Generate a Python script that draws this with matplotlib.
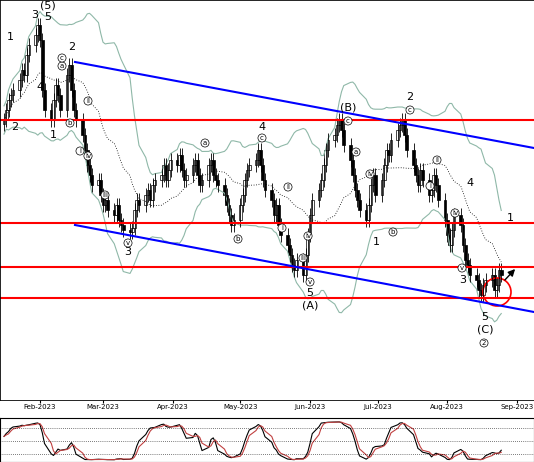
import numpy as np
import pandas as pd
import matplotlib
matplotlib.use("Agg")
import matplotlib.pyplot as plt
import matplotlib.dates as mdates
from matplotlib.patches import Ellipse

# closes, weekly blocks of 5 trading days from 2023-01-16 (price units)
closes_py = [
    120, 110, 100, 95, 90,   80, 70, 75, 55, 45,   35, 25, 40, 90, 110,
    120, 100, 85, 95, 110,   75, 65, 90, 110, 120,  135, 150, 165, 175, 185,
    180, 195, 205, 200, 210,  215, 205, 220, 225, 230,  232, 228, 210, 200, 205,
    195, 190, 200, 185, 180,  175, 165, 180, 170, 160,  165, 155, 170, 180, 175,
    165, 160, 175, 185, 180,  165, 160, 175, 180, 185,  195, 205, 215, 225, 220,
    205, 195, 180, 170, 165,  160, 150, 165, 180, 190,  200, 215, 205, 225, 235,
    245, 255, 265, 270, 260,  275, 255, 235, 215, 200,  190, 180, 165, 150, 140,
    135, 125, 120, 130, 145,  160, 175, 190, 200, 210,  220, 205, 185, 175, 195,
    180, 165, 150, 155, 140,  130, 125, 120, 135, 150,  165, 175, 185, 170, 180,
    195, 190, 175, 185, 200,  220, 235, 245, 230, 215,  225, 245, 260, 265, 275,
    280, 290, 295, 285, 280,  275, 290, 285, 270, 275,
]
closes = 462 - np.array(closes_py, dtype=float)
dates = pd.bdate_range("2023-01-16", periods=len(closes))
hlines_py = [120, 223, 267, 298]

opens = np.r_[closes[0] - 4, closes[:-1]]
highs = np.maximum(opens, closes) + 7
lows = np.minimum(opens, closes) - 7

def px2date(x):
    return mdates.date2num(pd.Timestamp("2023-02-01")) + (x - 40) / 2.25

fig = plt.figure(figsize=(5.34, 4.62), dpi=100)
ax = fig.add_axes([0, 62 / 462, 1, 400 / 462])
ax2 = fig.add_axes([0, 0, 1, 44 / 462])
xl = (px2date(0), px2date(534))
ax.set_xlim(*xl)
ax.set_ylim(62, 462)

s = pd.Series(closes)
mid = s.rolling(20, min_periods=1).mean()
sd = s.rolling(20, min_periods=2).std().bfill()
xd = mdates.date2num(dates)
ax.plot(xd, mid + 2 * sd, color="#8fb8a8", lw=0.8)
ax.plot(xd, mid - 2 * sd, color="#8fb8a8", lw=0.8)
ax.plot(xd, mid, color="k", lw=0.6, ls=(0, (1, 2)))

for x, o, h, l, c in zip(xd, opens, highs, lows, closes):
    ax.vlines(x, l, h, color="k", lw=0.6)
    ax.bar(x, c - o if c != o else 0.5, bottom=o, width=1.3,
           color="white" if c > o else "k", edgecolor="k", lw=0.5)

for y in hlines_py:
    ax.axhline(462 - y, color="red", lw=1.5)
ax.plot([px2date(75), px2date(534)], [462 - 62, 462 - 148], color="blue", lw=1.5)
ax.plot([px2date(75), px2date(534)], [462 - 225, 462 - 312], color="blue", lw=1.5)

labels = [(10, 37, "1"), (35, 15, "3"), (48, 5, "(5)"), (48, 17, "5"), (72, 47, "2"),
          (40, 87, "4"), (15, 127, "2"), (53, 135, "1"), (262, 127, "4"),
          (128, 252, "3"), (348, 107, "(B)"), (410, 97, "2"), (376, 242, "1"),
          (310, 293, "5"), (310, 306, "(A)"), (463, 280, "3"), (470, 183, "4"),
          (510, 218, "1"), (485, 317, "5"), (485, 330, "(C)")]
for x, y, t in labels:
    ax.text(px2date(x), 462 - y, t, fontsize=8, ha="center", va="center")
circ = [(62, 66, "a"), (70, 123, "b"), (62, 58, "c"), (80, 151, "i"), (88, 101, "ii"),
        (105, 195, "iii"), (88, 156, "iv"), (128, 243, "v"), (205, 143, "a"),
        (238, 239, "b"), (262, 138, "c"), (282, 228, "i"), (288, 187, "ii"),
        (303, 258, "iii"), (308, 236, "iv"), (310, 282, "v"), (348, 121, "c"),
        (410, 110, "c"), (356, 152, "a"), (370, 174, "iv"), (393, 232, "b"),
        (430, 186, "i"), (437, 160, "ii"), (455, 213, "iv"), (462, 268, "v"),
        (484, 343, "2")]
for x, y, t in circ:
    ax.text(px2date(x), 462 - y, t, fontsize=5, ha="center", va="center",
            bbox=dict(boxstyle="circle,pad=0.15", fc="white", ec="k", lw=0.5))
ax.add_patch(Ellipse((px2date(497), 462 - 292), 28 / 2.25, 28, fill=False,
                     ec="red", lw=1.2))
ax.annotate("", xy=(px2date(517), 462 - 267), xytext=(px2date(503), 462 - 282),
            arrowprops=dict(arrowstyle="-|>", color="k", lw=1))

months = ["2023-02-01", "2023-03-01", "2023-04-01", "2023-05-01", "2023-06-01",
          "2023-07-01", "2023-08-01", "2023-09-01"]
mticks = [mdates.date2num(pd.Timestamp(m)) for m in months]
ax.set_xticks(mticks)
ax.set_xticklabels([pd.Timestamp(m).strftime("%b-%Y") for m in months], fontsize=5)
ax.tick_params(axis="x", length=2, pad=1)
ax.set_yticks([])
for sp in ax.spines.values():
    sp.set_linewidth(0.6)

lo14 = pd.Series(lows).rolling(14, min_periods=1).min()
hi14 = pd.Series(highs).rolling(14, min_periods=1).max()
k = 100 * (s - lo14) / (hi14 - lo14)
k = k.rolling(3, min_periods=1).mean()
dline = k.rolling(3, min_periods=1).mean()
ax2.plot(xd, k, color="k", lw=0.8)
ax2.plot(xd, dline, color="#c04040", lw=0.8)
for y in (20, 50, 80):
    ax2.axhline(y, color="k", lw=0.5, ls=(0, (1, 2)))
ax2.set_xlim(*xl)
ax2.set_ylim(0, 105)
ax2.set_xticks([])
ax2.set_yticks([])
fig.savefig("out.png", dpi=100)
